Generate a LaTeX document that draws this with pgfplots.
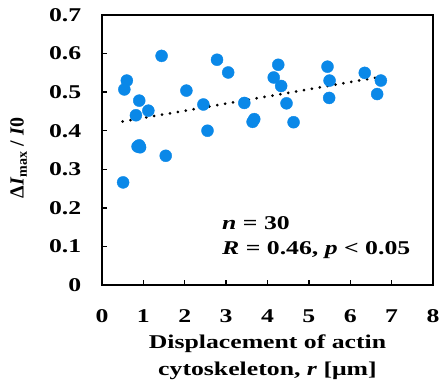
\documentclass[border=0pt]{standalone}
\usepackage{pgfplots}
\pgfplotsset{compat=1.18}
\usepackage{fontspec}
\setmainfont{Liberation Serif}[FakeStretch=1.32]
\newfontfamily\plainfont{Liberation Serif}
\definecolor{dotblue}{RGB}{10,136,232}
\begin{document}
\fontsize{19.5bp}{22bp}\selectfont
\begin{tikzpicture}
\begin{axis}[
  scale only axis,
  width=331bp, height=270bp,
  xmin=0, xmax=8, ymin=0, ymax=0.7,
  xtick={0,1,...,8}, ytick={0,0.1,0.2,0.3,0.4,0.5,0.6,0.7},
  yticklabels={0,0.1,0.2,0.3,0.4,0.5,0.6,0.7},
  tick pos=left,
  tick align=inside,
  major tick length=5bp,
  axis line style={line width=1.3bp},
  major tick style={draw=black, line width=1.3bp},
  /pgf/number format/assume math mode=true,
  ticklabel style={font=\fontsize{19.5bp}{22bp}\selectfont\bfseries},
  xticklabel style={yshift=-18bp},
  yticklabel style={xshift=-14bp},
  xlabel={\bfseries Displacement of actin\\ \bfseries cytoskeleton, \textit{r} [μm]},
  xlabel style={align=center, font=\fontsize{19.5bp}{27bp}\selectfont, yshift=1bp},
  ylabel={\plainfont\bfseries Δ\textit{I}\textsubscript{max} / \textit{I}0},
  ylabel style={font=\fontsize{20bp}{22bp}\selectfont, yshift=9bp, xshift=-8bp},
  clip=false,
]
\coordinate (LL) at (rel axis cs:0,0);
\coordinate (UR) at (rel axis cs:1,1);
\addplot[only marks, mark=*, color=dotblue, mark size=6bp, mark options={draw=dotblue, fill=dotblue}] coordinates {
(0.51,0.266) (0.54,0.507) (0.60,0.530) (0.82,0.440) (0.90,0.478)
(0.86,0.359) (0.92,0.357) (1.12,0.452) (1.44,0.594) (1.54,0.335)
(2.04,0.504) (2.45,0.468) (2.55,0.400) (2.78,0.584) (3.05,0.551)
(3.44,0.472) (3.64,0.423) (3.68,0.430) (4.15,0.538) (4.26,0.571)
(4.33,0.516) (4.46,0.471) (4.63,0.422) (5.45,0.566) (5.50,0.530)
(5.49,0.485) (6.35,0.550) (6.65,0.495) (6.74,0.530) (0.90,0.362)
};
\addplot[black, line width=3bp, line cap=round, dash pattern=on 0bp off 8bp] coordinates {(0.5,0.424) (6.7,0.539)};
\node[anchor=base west, inner sep=0pt, font=\fontsize{19.5bp}{22bp}\selectfont\bfseries] at (axis cs:2.9,0.143) {\textit{n} = 30};
\node[anchor=base west, inner sep=0pt, font=\fontsize{19.5bp}{22bp}\selectfont\bfseries] at (axis cs:2.9,0.078) {\textit{R} = 0.46,\ \textit{p} < 0.05};
\end{axis}
\pgfresetboundingbox
\path ([shift={(-102bp,-103bp)}]LL) rectangle ([shift={(7bp,15bp)}]UR);
\end{tikzpicture}
\end{document}
